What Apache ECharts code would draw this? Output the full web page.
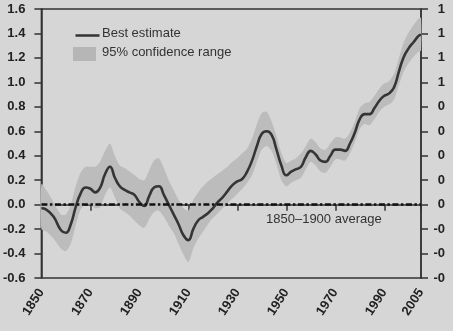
<!DOCTYPE html>
<html>
<head>
<meta charset="utf-8">
<script src="https://cdn.jsdelivr.net/npm/echarts@6/dist/echarts.min.js"></script>
<style>
html,body{margin:0;padding:0;background:#d6d6d6;}
#c{width:453px;height:331px;}
</style>
</head>
<body>
<div id="c"></div>
<script>
// ---- data ----
const years = [1850,1852,1855,1858,1860,1862,1864,1866,1868,1870,1872,1874,1876,1878,1880,1882,1884,1886,1888,1890,1892,1894,1896,1898,1900,1902,1904,1906,1908,1910,1912,1914,1916,1918,1920,1922,1924,1926,1928,1930,1932,1934,1936,1938,1940,1942,1944,1946,1948,1950,1952,1954,1956,1958,1960,1962,1964,1966,1968,1970,1972,1974,1976,1978,1980,1982,1984,1986,1988,1990,1992,1994,1996,1998,2000,2002,2004,2005];
const bestEstimate = [-0.03,-0.04,-0.10,-0.21,-0.23,-0.16,-0.02,0.09,0.14,0.13,0.10,0.14,0.25,0.31,0.22,0.15,0.12,0.10,0.08,0.02,-0.01,0.07,0.14,0.15,0.08,0.00,-0.08,-0.16,-0.25,-0.29,-0.20,-0.13,-0.10,-0.07,-0.03,0.02,0.06,0.11,0.16,0.19,0.21,0.27,0.36,0.48,0.58,0.60,0.57,0.45,0.32,0.24,0.27,0.29,0.31,0.39,0.44,0.41,0.36,0.35,0.40,0.45,0.45,0.44,0.50,0.59,0.70,0.74,0.74,0.79,0.85,0.89,0.91,0.96,1.09,1.21,1.28,1.33,1.38,1.39];
const upper95 = [0.17,0.12,0.02,-0.08,-0.08,0.00,0.15,0.26,0.31,0.31,0.31,0.35,0.44,0.50,0.40,0.32,0.30,0.27,0.24,0.21,0.20,0.28,0.36,0.38,0.30,0.20,0.12,0.04,-0.03,-0.05,0.04,0.10,0.15,0.19,0.22,0.25,0.28,0.31,0.35,0.38,0.42,0.46,0.54,0.66,0.75,0.76,0.68,0.56,0.42,0.34,0.36,0.38,0.42,0.48,0.54,0.51,0.46,0.45,0.50,0.55,0.55,0.54,0.59,0.68,0.79,0.83,0.84,0.89,0.95,0.99,1.01,1.07,1.20,1.33,1.41,1.47,1.52,1.53];
const lower95 = [-0.20,-0.22,-0.28,-0.36,-0.38,-0.32,-0.17,-0.04,0.00,0.00,-0.03,-0.02,0.08,0.14,0.06,-0.03,-0.06,-0.09,-0.13,-0.17,-0.19,-0.12,-0.06,-0.05,-0.10,-0.17,-0.23,-0.32,-0.41,-0.47,-0.36,-0.28,-0.22,-0.16,-0.11,-0.07,-0.03,0.01,0.05,0.09,0.13,0.18,0.24,0.35,0.45,0.48,0.44,0.33,0.20,0.15,0.18,0.20,0.22,0.29,0.35,0.32,0.27,0.26,0.31,0.37,0.37,0.36,0.42,0.51,0.62,0.66,0.65,0.70,0.76,0.80,0.82,0.86,0.98,1.09,1.16,1.21,1.25,1.26];
const xTickYears = [1850,1870,1890,1910,1930,1950,1970,1990,2005];
const yTicks = [-0.6,-0.4,-0.2,0.0,0.2,0.4,0.6,0.8,1.0,1.2,1.4,1.6];
const baselineValue = 0;
const baselineLabel = '1850\u20131900 average';
const legendNames = ['Best estimate', '95% confidence range'];

// ---- chart ----
const chart = echarts.init(document.getElementById('c'), null, {renderer: 'canvas'});
const axisFont = {fontFamily: 'Liberation Sans, Arial, sans-serif', fontWeight: 'bold', fontSize: 13, color: '#222'};
const txtFont = 'Liberation Sans, Arial, sans-serif';
const bandColor = '#bcbcbc';

const bestData = years.map((y, i) => [y, bestEstimate[i]]);

chart.setOption({
  backgroundColor: '#d6d6d6',
  animation: false,
  grid: {left: 41, right: 32, top: 9, bottom: 53, show: true, borderColor: '#333', borderWidth: 1.5, backgroundColor: 'transparent'},
  xAxis: {
    type: 'value', min: 1850, max: 2005,
    axisLine: {show: true, lineStyle: {color: '#333', width: 1.5}},
    axisTick: {show: true, inside: false, length: 6, customValues: xTickYears, lineStyle: {color: '#333', width: 1.5}},
    axisLabel: Object.assign({customValues: xTickYears, rotate: 57, margin: 12, formatter: v => String(v)}, axisFont),
    splitLine: {show: false}
  },
  yAxis: [
    {
      type: 'value', min: yTicks[0], max: yTicks[yTicks.length-1], interval: 0.2, position: 'left',
      axisLine: {show: true, lineStyle: {color: '#333', width: 1.5}},
      axisTick: {show: true, inside: false, length: 7, lineStyle: {color: '#333', width: 1.5}},
      axisLabel: Object.assign({margin: 16, formatter: v => v.toFixed(1)}, axisFont),
      splitLine: {show: false}
    },
    {
      type: 'value', min: yTicks[0], max: yTicks[yTicks.length-1], interval: 0.2, position: 'right',
      axisLine: {show: true, lineStyle: {color: '#333', width: 1.5}},
      axisTick: {show: true, inside: false, length: 7, lineStyle: {color: '#333', width: 1.5}},
      axisLabel: Object.assign({margin: 24, align: 'right', formatter: v => v.toFixed(1).split('.')[0]}, axisFont),
      splitLine: {show: false}
    }
  ],
  series: [
    {
      name: legendNames[1], type: 'custom', silent: true, z: 1,
      data: [0],
      renderItem: function (params, api) {
        const pts = [];
        for (let i = 0; i < years.length; i++) pts.push(api.coord([years[i], upper95[i]]));
        for (let i = years.length - 1; i >= 0; i--) pts.push(api.coord([years[i], lower95[i]]));
        return {type: 'polygon', shape: {points: pts, smooth: 0.25}, style: {fill: bandColor, stroke: null}};
      }
    },
    {
      name: legendNames[0], type: 'line', data: bestData, smooth: true, symbol: 'none',
      lineStyle: {color: '#353535', width: 2.6}, z: 3,
      markLine: {
        silent: true, symbol: 'none', label: {show: false}, z: 4,
        lineStyle: {color: '#111', width: 2.5, type: [6, 2.5, 2.5, 2.5]},
        data: [{yAxis: baselineValue}]
      }
    }
  ],
  graphic: [
    {type: 'line', left: 73, top: 33, shape: {x1: 0, y1: 0, x2: 24, y2: 0}, style: {stroke: '#333', lineWidth: 2.5}},
    {type: 'rect', left: 73, top: 47, shape: {width: 23, height: 14}, style: {fill: '#b6b6b6'}},
    {type: 'text', left: 102, top: 27, style: {text: legendNames[0], font: '13px ' + txtFont, fill: '#333'}},
    {type: 'text', left: 102, top: 46, style: {text: legendNames[1], font: '13px ' + txtFont, fill: '#333'}},
    {type: 'text', left: 266, top: 213, style: {text: baselineLabel, font: '13px ' + txtFont, fill: '#333'}}
  ]
});
</script>
</body>
</html>
